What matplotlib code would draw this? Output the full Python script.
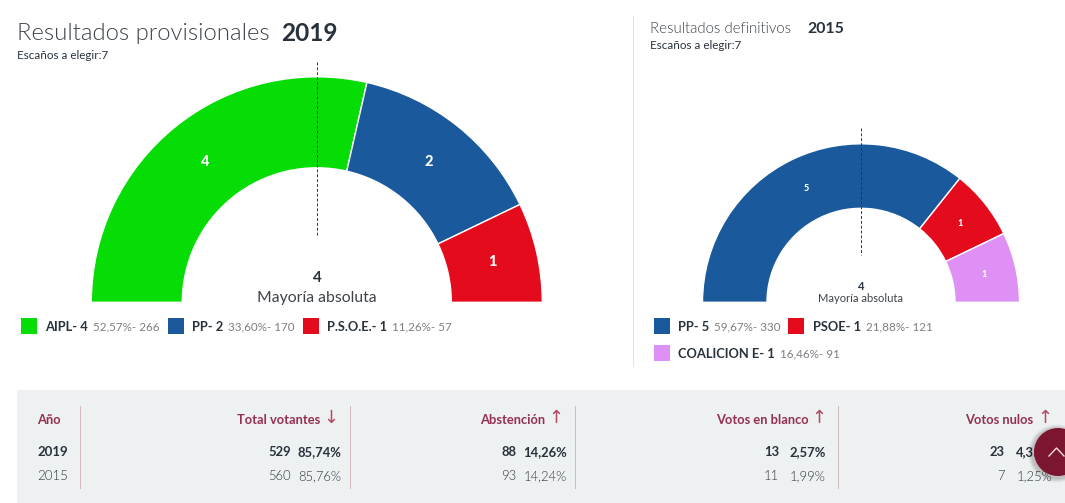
import math
import matplotlib
matplotlib.use("Agg")
import matplotlib.pyplot as plt
from matplotlib import font_manager as fm
from matplotlib.patches import Wedge, Rectangle, Circle

plt.rcParams['font.family'] = ['Lato', 'Open Sans', 'DejaVu Sans']

# ---- data ----
parties_2019 = ["AIPL", "PP", "P.S.O.E."]
seats_2019 = [4, 2, 1]
detail_2019 = ["52,57%- 266", "33,60%- 170", "11,26%- 57"]
colors_2019 = ["#05DD05", "#1A5A9C", "#E30B1C"]

parties_2015 = ["PP", "PSOE", "COALICION E"]
seats_2015 = [5, 1, 1]
detail_2015 = ["59,67%- 330", "21,88%- 121", "16,46%- 91"]
colors_2015 = ["#1A5A9C", "#E30B1C", "#DF90F5"]

majority = 4
table_headers = ["Total votantes", "Abstención", "Votos en blanco", "Votos nulos"]
table_arrows = ["↓", "↑", "↑", "↑"]
table_years = ["2019", "2015"]
table_counts = [["529", "88", "13", "23"], ["560", "93", "11", "7"]]
table_pcts = [["85,74%", "14,26%", "2,57%", "4,35%"], ["85,76%", "14,24%", "1,99%", "1,25%"]]

DARK = "#27323C"
GREY = "#7b7f83"
WINE = "#95304E"

# Lato Light, located by file name so the thinner Hairline cut is not picked
light_files = [f.fname for f in fm.fontManager.ttflist
               if f.name == "Lato" and f.fname.endswith("Lato-Light.ttf")]


def light(size):
    if light_files:
        return fm.FontProperties(fname=light_files[0], size=size)
    return fm.FontProperties(family="Lato", weight="normal", size=size)


W, H = 1065, 503
fig = plt.figure(figsize=(W / 100, H / 100), dpi=100)
ax = fig.add_axes([0, 0, 1, 1])
ax.set_xlim(0, W)
ax.set_ylim(H, 0)
ax.axis("off")
renderer = fig.canvas.get_renderer()


def gauge(cx, cy, r_out, r_in, seats, colors, label_size):
    total = sum(seats)
    start = 180.0
    for n, c in zip(seats, colors):
        sweep = 180.0 * n / total
        ax.add_patch(Wedge((cx, cy), r_out, start, start + sweep, width=r_out - r_in,
                           facecolor=c, edgecolor="white", linewidth=1.0, zorder=2))
        mid = math.radians(start + sweep / 2)
        rm = (r_out + r_in) / 2
        ax.text(cx + rm * math.cos(mid), cy + rm * math.sin(mid), str(n), color="white",
                fontsize=label_size, fontweight="black", ha="center", va="center", zorder=4)
        start += sweep


def legend_entry(x, y, party, seats, detail, color, text_dx):
    ax.add_patch(Rectangle((x, y - 8.3), 16, 16, facecolor=color, edgecolor="none"))
    t = ax.text(x + text_dx, y, f"{party}- {seats}", fontsize=9.3, fontweight="bold", color=DARK,
                ha="left", va="center_baseline")
    end = ax.transData.inverted().transform(t.get_window_extent(renderer))[1][0]
    ax.text(end + 5, y, detail, fontsize=8.4, color=GREY, ha="left", va="center_baseline")


# ---- left block ----
ax.text(17, 31, "Resultados provisionales", fontproperties=light(17.2), color="#3d4349", va="center_baseline")
ax.text(281, 31, "2019", fontsize=17.6, fontweight="bold", color=DARK, va="center_baseline")
ax.text(17, 54, "Escaños a elegir:7", fontsize=8.4, color=DARK, va="center_baseline")
gauge(316.8, 302.3, 225.5, 134.5, seats_2019, colors_2019, 10.5)
ax.plot([317, 317], [62, 236], color="#333333", lw=0.7, ls=(0, (3, 2)), zorder=5)
ax.text(317, 278, str(majority), fontsize=11, fontweight="bold", color=DARK, ha="center", va="center")
ax.text(317, 298, "Mayoría absoluta", fontsize=11.3, color="#3d4349", ha="center", va="center")

for x, p, s, d, c in zip([21, 168, 303], parties_2019, seats_2019, detail_2019, colors_2019):
    legend_entry(x, 326, p, s, d, c, 24)

# ---- right block ----
ax.plot([633, 633], [16, 366], color="#e4e4e4", lw=0.72)
ax.text(650, 27, "Resultados definitivos", fontproperties=light(10.8), color="#3d4349", va="center_baseline")
ax.text(807, 27, "2015", fontsize=11.4, fontweight="bold", color=DARK, va="center_baseline")
ax.text(650, 44, "Escaños a elegir:7", fontsize=8.4, color=DARK, va="center_baseline")
gauge(861, 302.3, 158.5, 94, seats_2015, colors_2015, 6.5)
ax.plot([861, 861], [128, 255], color="#333333", lw=0.7, ls=(0, (3, 2)), zorder=5)
ax.text(861, 286, str(majority), fontsize=8, fontweight="bold", color=DARK, ha="center", va="center")
ax.text(861, 299, "Mayoría absoluta", fontsize=8.0, color="#3d4349", ha="center", va="center")

for (x, y), p, s, d, c in zip([(654, 326), (788, 326), (654, 353)],
                              parties_2015, seats_2015, detail_2015, colors_2015):
    legend_entry(x, y, p, s, d, c, 24 if x == 654 else 25)

# ---- table ----
ax.add_patch(Rectangle((17, 390), W - 17, 113, facecolor="#EEF1F1", edgecolor="none", zorder=0))
for x in [80, 350, 575, 838]:
    ax.plot([x, x], [406, 488], color="#d3b9be", lw=0.72, zorder=1)
ax.text(37, 419, "Año", fontsize=9.3, fontweight="bold", color=WINE, va="center_baseline")
ax.text(37, 451, table_years[0], fontsize=9.5, fontweight="bold", color=DARK, va="center_baseline")
ax.text(37, 475, table_years[1], fontproperties=light(9.5), color="#2f353b", va="center_baseline")

head_right = [320, 545, 809, 1033]
arrow_x = [331, 556, 819, 1045]
count_right = [291, 516, 779, 1005]
pct_right = [341, 567, 826, 1052]
for i in range(4):
    ax.text(head_right[i], 419, table_headers[i], fontsize=9.3, fontweight="bold", color=WINE,
            ha="right", va="center_baseline")
    ax.text(arrow_x[i], 418, table_arrows[i], fontsize=13, color="#b5475f", family="DejaVu Sans",
            ha="center", va="center")
    for r, y in enumerate([451, 475]):
        for s, xr in ((table_counts[r][i], count_right[i]), (table_pcts[r][i], pct_right[i])):
            if r == 0:
                ax.text(xr, y, s, fontsize=9.4, fontweight="bold", color=DARK, ha="right", va="center_baseline")
            else:
                ax.text(xr, y, s, fontproperties=light(9.4), color="#2f353b", ha="right", va="center_baseline")

# ---- scroll-to-top button ----
for extra, a in ((5, 0.05), (3.5, 0.07), (2, 0.09)):
    ax.add_patch(Circle((1057, 453.5), 24 + extra, facecolor="black", edgecolor="none", alpha=a, zorder=6))
ax.add_patch(Circle((1058, 452), 24, facecolor="#7B1530", edgecolor="none", zorder=6))
ax.plot([1049, 1056.5, 1064], [456, 448, 456], color="#f3dfe3", lw=1.0, zorder=7)

fig.savefig("out.png", dpi=100)
